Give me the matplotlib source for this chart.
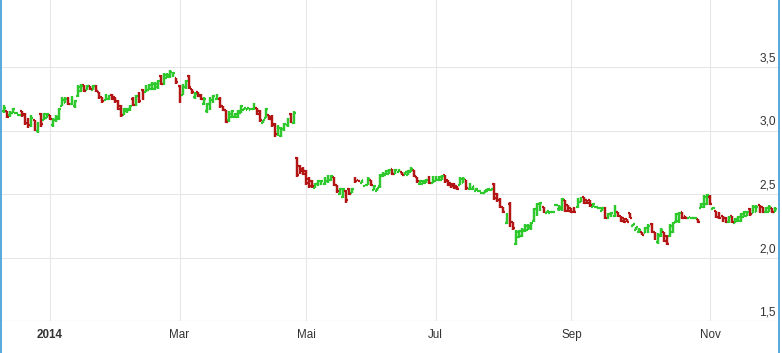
import pandas as pd
import numpy as np
import matplotlib
matplotlib.use('Agg')
import matplotlib.pyplot as plt
from matplotlib.lines import Line2D

plt.rcParams['font.family'] = ['Liberation Sans', 'DejaVu Sans']

# trading days (Xetra calendar), ordinal x axis
holidays = ['2013-12-24', '2013-12-25', '2013-12-26', '2013-12-31', '2014-01-01',
            '2014-04-18', '2014-04-21', '2014-05-01']
dates = pd.bdate_range('2013-12-05', '2014-12-02')
dates = dates[~dates.isin(pd.to_datetime(holidays))]

opens = [
    3.15, 3.15, 3.12, 3.14, 3.14, 3.12, 3.15, 3.13, 3.09, 3.04,
    3.08, 3.00, 3.13, 3.08, 3.10, 3.12, 3.04, 3.08, 3.09, 3.19,
    3.22, 3.25, 3.21, 3.19, 3.27, 3.31, 3.36, 3.32, 3.35, 3.32,
    3.35, 3.30, 3.26, 3.24, 3.25, 3.28, 3.26, 3.23, 3.19, 3.12,
    3.15, 3.16, 3.25, 3.20, 3.29, 3.32, 3.30, 3.32, 3.33, 3.33,
    3.34, 3.43, 3.37, 3.41, 3.42, 3.43, 3.41, 3.35, 3.28, 3.34,
    3.43, 3.33, 3.26, 3.30, 3.28, 3.21, 3.15, 3.17, 3.23, 3.25,
    3.25, 3.19, 3.16, 3.08, 3.11, 3.11, 3.11, 3.14, 3.16, 3.16,
    3.16, 3.17, 3.18, 3.15, 3.06, 3.10, 3.12, 3.11, 3.05, 2.97,
    2.96, 3.01, 3.04, 3.13, 3.06, 2.78, 2.72, 2.70, 2.68, 2.62,
    2.60, 2.55, 2.57, 2.58, 2.58, 2.60, 2.61, 2.63, 2.57, 2.50,
    2.48, 2.52, 2.54, 2.51, 2.62, 2.61, 2.59, 2.56, 2.57, 2.61,
    2.53, 2.52, 2.56, 2.64, 2.65, 2.66, 2.70, 2.66, 2.67, 2.67,
    2.65, 2.65, 2.67, 2.69, 2.63, 2.58, 2.58, 2.59, 2.63, 2.59,
    2.60, 2.61, 2.61, 2.65, 2.61, 2.59, 2.58, 2.56, 2.57, 2.59,
    2.61, 2.54, 2.54, 2.52, 2.52, 2.51, 2.51, 2.52, 2.53, 2.58,
    2.50, 2.46, 2.40, 2.27, 2.42, 2.28, 2.11, 2.16, 2.17, 2.21,
    2.22, 2.23, 2.29, 2.34, 2.38, 2.40, 2.35, 2.35, 2.36, 2.41,
    2.38, 2.38, 2.45, 2.41, 2.39, 2.39, 2.40, 2.44, 2.48, 2.45,
    2.45, 2.40, 2.40, 2.39, 2.37, 2.39, 2.31, 2.33, 2.33, 2.36,
    2.33, 2.31, 2.30, 2.35, 2.25, 2.22, 2.20, 2.20, 2.19, 2.20,
    2.26, 2.20, 2.12, 2.17, 2.20, 2.17, 2.17, 2.20, 2.28, 2.29,
    2.36, 2.33, 2.31, 2.31, 2.31, 2.30, 2.39, 2.40, 2.42, 2.48,
    2.38, 2.37, 2.35, 2.33, 2.31, 2.28, 2.33, 2.27, 2.29, 2.29,
    2.32, 2.33, 2.38, 2.35, 2.36, 2.41, 2.40, 2.36, 2.36, 2.39,
    2.36]
highs = [
    3.20, 3.15, 3.15, 3.18, 3.14, 3.12, 3.15, 3.14, 3.10, 3.12,
    3.08, 3.07, 3.14, 3.14, 3.14, 3.12, 3.10, 3.12, 3.18, 3.26,
    3.26, 3.26, 3.27, 3.24, 3.36, 3.37, 3.36, 3.36, 3.35, 3.36,
    3.36, 3.30, 3.26, 3.29, 3.28, 3.29, 3.26, 3.24, 3.20, 3.18,
    3.18, 3.20, 3.26, 3.28, 3.30, 3.33, 3.36, 3.37, 3.38, 3.38,
    3.40, 3.44, 3.45, 3.45, 3.48, 3.46, 3.41, 3.36, 3.37, 3.40,
    3.44, 3.33, 3.30, 3.30, 3.29, 3.26, 3.22, 3.26, 3.28, 3.29,
    3.26, 3.19, 3.16, 3.15, 3.16, 3.14, 3.16, 3.20, 3.18, 3.18,
    3.18, 3.22, 3.18, 3.16, 3.08, 3.18, 3.12, 3.12, 3.06, 3.04,
    3.03, 3.06, 3.10, 3.14, 3.15, 2.79, 2.73, 2.71, 2.69, 2.63,
    2.61, 2.59, 2.61, 2.61, 2.63, 2.65, 2.65, 2.63, 2.57, 2.55,
    2.55, 2.53, 2.55, 2.55, 2.63, 2.61, 2.61, 2.57, 2.63, 2.61,
    2.57, 2.55, 2.66, 2.67, 2.69, 2.70, 2.70, 2.70, 2.70, 2.67,
    2.67, 2.69, 2.71, 2.69, 2.63, 2.61, 2.61, 2.62, 2.64, 2.64,
    2.64, 2.64, 2.65, 2.65, 2.61, 2.59, 2.59, 2.56, 2.63, 2.63,
    2.61, 2.59, 2.56, 2.55, 2.52, 2.51, 2.53, 2.55, 2.54, 2.59,
    2.51, 2.47, 2.40, 2.35, 2.44, 2.28, 2.22, 2.22, 2.23, 2.26,
    2.26, 2.28, 2.39, 2.43, 2.44, 2.40, 2.37, 2.37, 2.36, 2.41,
    2.41, 2.47, 2.45, 2.41, 2.39, 2.40, 2.47, 2.48, 2.48, 2.45,
    2.45, 2.43, 2.40, 2.39, 2.40, 2.40, 2.35, 2.36, 2.41, 2.36,
    2.33, 2.31, 2.30, 2.35, 2.26, 2.24, 2.23, 2.20, 2.24, 2.26,
    2.27, 2.20, 2.19, 2.23, 2.20, 2.18, 2.26, 2.28, 2.35, 2.36,
    2.36, 2.33, 2.32, 2.31, 2.31, 2.30, 2.43, 2.49, 2.50, 2.49,
    2.40, 2.37, 2.36, 2.33, 2.32, 2.33, 2.33, 2.31, 2.33, 2.35,
    2.37, 2.37, 2.39, 2.41, 2.41, 2.41, 2.40, 2.40, 2.41, 2.39,
    2.40]
lows = [
    3.14, 3.10, 3.11, 3.14, 3.14, 3.12, 3.11, 3.04, 3.02, 3.03,
    3.00, 2.98, 3.03, 3.08, 3.10, 3.08, 3.03, 3.07, 3.08, 3.19,
    3.22, 3.20, 3.20, 3.18, 3.26, 3.30, 3.30, 3.32, 3.32, 3.32,
    3.30, 3.25, 3.22, 3.24, 3.24, 3.24, 3.22, 3.16, 3.11, 3.12,
    3.14, 3.15, 3.19, 3.19, 3.22, 3.24, 3.30, 3.32, 3.32, 3.32,
    3.33, 3.36, 3.36, 3.41, 3.41, 3.42, 3.37, 3.22, 3.28, 3.33,
    3.33, 3.29, 3.25, 3.26, 3.24, 3.20, 3.14, 3.16, 3.22, 3.24,
    3.18, 3.15, 3.06, 3.07, 3.10, 3.10, 3.10, 3.14, 3.16, 3.16,
    3.16, 3.16, 3.12, 3.07, 3.06, 3.10, 3.08, 3.03, 2.95, 2.96,
    2.95, 3.00, 3.03, 3.06, 3.05, 2.63, 2.66, 2.65, 2.57, 2.55,
    2.55, 2.55, 2.56, 2.57, 2.57, 2.59, 2.60, 2.56, 2.51, 2.49,
    2.47, 2.43, 2.49, 2.51, 2.59, 2.60, 2.59, 2.56, 2.57, 2.56,
    2.53, 2.52, 2.55, 2.63, 2.65, 2.66, 2.65, 2.66, 2.67, 2.65,
    2.65, 2.65, 2.67, 2.63, 2.59, 2.57, 2.58, 2.59, 2.58, 2.59,
    2.60, 2.60, 2.61, 2.59, 2.56, 2.55, 2.54, 2.53, 2.57, 2.59,
    2.53, 2.53, 2.53, 2.52, 2.52, 2.51, 2.51, 2.52, 2.52, 2.45,
    2.44, 2.39, 2.35, 2.26, 2.24, 2.22, 2.10, 2.15, 2.16, 2.20,
    2.22, 2.22, 2.28, 2.33, 2.37, 2.35, 2.35, 2.35, 2.36, 2.41,
    2.37, 2.37, 2.36, 2.36, 2.35, 2.35, 2.39, 2.44, 2.42, 2.42,
    2.40, 2.40, 2.40, 2.39, 2.37, 2.30, 2.30, 2.32, 2.32, 2.32,
    2.28, 2.27, 2.28, 2.31, 2.25, 2.22, 2.19, 2.18, 2.19, 2.19,
    2.19, 2.14, 2.11, 2.16, 2.12, 2.10, 2.16, 2.19, 2.27, 2.27,
    2.30, 2.30, 2.31, 2.31, 2.31, 2.27, 2.39, 2.39, 2.41, 2.41,
    2.38, 2.31, 2.30, 2.28, 2.27, 2.27, 2.27, 2.27, 2.28, 2.28,
    2.32, 2.33, 2.33, 2.35, 2.36, 2.35, 2.35, 2.35, 2.36, 2.35,
    2.36]
closes = [
    3.18, 3.11, 3.14, 3.17, 3.14, 3.12, 3.12, 3.06, 3.04, 3.10,
    3.01, 3.06, 3.05, 3.13, 3.13, 3.09, 3.08, 3.11, 3.17, 3.24,
    3.25, 3.21, 3.25, 3.23, 3.34, 3.35, 3.31, 3.35, 3.33, 3.35,
    3.31, 3.26, 3.23, 3.28, 3.27, 3.25, 3.23, 3.17, 3.12, 3.17,
    3.17, 3.19, 3.20, 3.27, 3.23, 3.25, 3.35, 3.36, 3.37, 3.37,
    3.39, 3.37, 3.44, 3.44, 3.46, 3.45, 3.38, 3.23, 3.35, 3.39,
    3.34, 3.30, 3.29, 3.27, 3.25, 3.25, 3.21, 3.24, 3.27, 3.28,
    3.19, 3.16, 3.07, 3.13, 3.15, 3.13, 3.15, 3.19, 3.18, 3.18,
    3.17, 3.21, 3.13, 3.08, 3.08, 3.17, 3.09, 3.04, 2.97, 3.02,
    3.01, 3.05, 3.09, 3.07, 3.14, 2.65, 2.68, 2.66, 2.59, 2.56,
    2.56, 2.58, 2.60, 2.60, 2.62, 2.64, 2.64, 2.57, 2.52, 2.54,
    2.54, 2.45, 2.50, 2.54, 2.60, 2.60, 2.61, 2.57, 2.62, 2.57,
    2.56, 2.55, 2.65, 2.66, 2.68, 2.69, 2.66, 2.69, 2.69, 2.65,
    2.67, 2.68, 2.70, 2.64, 2.60, 2.60, 2.60, 2.61, 2.59, 2.63,
    2.63, 2.63, 2.64, 2.60, 2.57, 2.56, 2.55, 2.54, 2.62, 2.62,
    2.55, 2.58, 2.56, 2.54, 2.52, 2.51, 2.53, 2.54, 2.54, 2.47,
    2.45, 2.40, 2.36, 2.34, 2.25, 2.23, 2.20, 2.21, 2.22, 2.25,
    2.25, 2.27, 2.38, 2.42, 2.43, 2.36, 2.37, 2.36, 2.36, 2.41,
    2.40, 2.46, 2.37, 2.37, 2.36, 2.36, 2.46, 2.47, 2.43, 2.43,
    2.41, 2.42, 2.40, 2.39, 2.39, 2.31, 2.34, 2.35, 2.40, 2.33,
    2.29, 2.28, 2.28, 2.31, 2.26, 2.24, 2.22, 2.18, 2.23, 2.25,
    2.20, 2.15, 2.18, 2.22, 2.13, 2.11, 2.25, 2.27, 2.34, 2.35,
    2.31, 2.31, 2.32, 2.31, 2.31, 2.28, 2.42, 2.48, 2.49, 2.42,
    2.39, 2.32, 2.31, 2.29, 2.28, 2.32, 2.28, 2.30, 2.32, 2.34,
    2.36, 2.36, 2.34, 2.40, 2.40, 2.36, 2.36, 2.39, 2.40, 2.36,
    2.38]

tick_months = ['2014-01', '2014-03', '2014-05', '2014-07', '2014-09', '2014-11']
tick_labels = ['2014', 'Mar', 'Mai', 'Jul', 'Sep', 'Nov']
y_ticks = [1.5, 2.0, 2.5, 3.0, 3.5]

up_color = '#2cc82c'
down_color = '#b31515'
grid_color = '#e6e6e6'
text_color = '#333333'

n = min(len(dates), len(opens))
x = np.arange(n)
o = np.array(opens[:n])
h = np.array(highs[:n])
l = np.array(lows[:n])
c = np.array(closes[:n])
cols = [up_color if c[i] >= o[i] else down_color for i in range(n)]

fig = plt.figure(figsize=(7.82, 3.53), dpi=100)
ax = fig.add_axes([1 / 782, 32 / 353, 777 / 782, 321 / 353])

# pixel layout: bar i sits at 3.7 + 3.085 * i px, 127 px per 1.0
ax.set_xlim((1 - 3.7) / 3.085, (778 - 3.7) / 3.085)
ax.set_ylim(1.5, 1.5 + 321 / 127)

for v in y_ticks[1:]:
    ax.axhline(v, color=grid_color, lw=0.75, zorder=0)
ax.axhline(y_ticks[0], color='#cfcfcf', lw=0.8, zorder=0)

tick_pos = [int(np.argmax(dates >= pd.Timestamp(m + '-01'))) for m in tick_months]
for p in tick_pos:
    ax.axvline(p, color=grid_color, lw=0.75, zorder=0)

ax.vlines(x, l, h, colors=cols, lw=1.75, zorder=2)
ax.hlines(o, x - 0.6, x, colors=cols, lw=1.6, zorder=2)
ax.hlines(c, x, x + 0.6, colors=cols, lw=1.6, zorder=2)

for s in ax.spines.values():
    s.set_visible(False)

ax.set_xticks(tick_pos)
ax.set_xticklabels(tick_labels)
ax.tick_params(axis='x', length=0, pad=6, labelsize=8.4, labelcolor=text_color)
ax.get_xticklabels()[0].set_fontweight('bold')
ax.set_yticks([])

x_right = (776 - 3.7) / 3.085
for v in y_ticks:
    ax.text(x_right, v + 2.5 / 127, ('%.1f' % v).replace('.', ','), ha='right', va='bottom',
            fontsize=8.6, color=text_color)

# blue frame on the sides
fig.add_artist(Line2D([0.8 / 782, 0.8 / 782], [0, 1], transform=fig.transFigure, color='#3b9ad6', lw=1.2))
fig.add_artist(Line2D([778.8 / 782, 778.8 / 782], [0, 1], transform=fig.transFigure, color='#3b9ad6', lw=1.2))

fig.savefig('out.png', dpi=100)
